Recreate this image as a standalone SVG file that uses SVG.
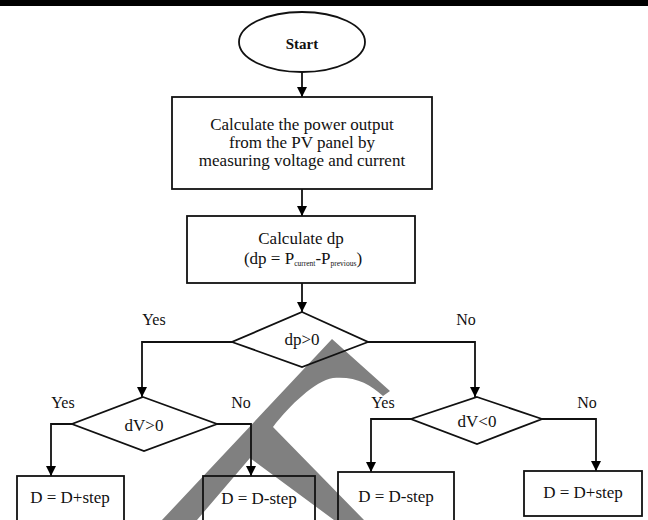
<svg xmlns="http://www.w3.org/2000/svg" width="648" height="520" viewBox="0 0 648 520">
  <defs>
    <marker id="arr" viewBox="0 0 10 10" refX="10" refY="5" markerWidth="10" markerHeight="10" markerUnits="userSpaceOnUse" orient="auto">
      <path d="M0,0 L10,5 L0,10 Z" fill="#000"/>
    </marker>
    <style>
      text { font-family: "Liberation Serif", "Times New Roman", serif; font-size: 17px; fill: #111; text-anchor: middle; }
      .lbl { font-size: 16px; }
      .shape { fill: none; stroke: #111; stroke-width: 1.8; }
      .conn { fill: none; stroke: #111; stroke-width: 1.8; marker-end: url(#arr); }
      .sub { font-size: 7.5px; }
    </style>
  </defs>
  <rect x="0" y="0" width="648" height="520" fill="#fff"/>
  <rect x="0" y="0" width="648" height="6" fill="#000"/>

  <!-- watermark -->
  <path id="watermark" d="M 162 520 L 332 339 L 390 391 L 383 396 C 370 384, 355 376, 333 378 C 315 381, 290 405, 273 427 L 364 520 L 334 520 L 250 458 L 197 520 Z" fill="#808080"/>

  <g id="connectors">
    <line class="conn" x1="302" y1="72" x2="302" y2="97"/>
    <line class="conn" x1="302" y1="189" x2="302" y2="216"/>
    <line class="conn" x1="302" y1="283" x2="302" y2="312"/>
    <polyline class="conn" points="232,342 142,342 142,397"/>
    <polyline class="conn" points="368,342 475,342 475,397"/>
    <polyline class="conn" points="72,424 51,424 51,476"/>
    <polyline class="conn" points="217,424 251,424 251,476"/>
    <polyline class="conn" points="411,419 371,419 371,472"/>
    <polyline class="conn" points="542,419 596,419 596,471"/>
  </g>

  <g id="start">
    <ellipse class="shape" cx="302" cy="42" rx="63" ry="30"/>
    <text x="302" y="49" style="font-weight:bold;font-size:15px">Start</text>
  </g>

  <g id="calc-power">
    <rect class="shape" x="172" y="97" width="260" height="92"/>
    <text x="302" y="130">Calculate the power output</text>
    <text x="302" y="148">from the PV panel by</text>
    <text x="302" y="166">measuring voltage and current</text>
  </g>

  <g id="calc-dp">
    <rect class="shape" x="187" y="216" width="228" height="67"/>
    <text x="301" y="244">Calculate dp</text>
    <text x="303" y="264">(dp = P<tspan class="sub" dy="2">current</tspan><tspan dy="-2">-P</tspan><tspan class="sub" dy="2">previous</tspan><tspan dy="-2">)</tspan></text>
  </g>

  <g id="dec-dp">
    <polygon class="shape" points="302,312 368,342 302,367 232,342"/>
    <text x="302" y="345">dp&gt;0</text>
    <text class="lbl" x="154" y="325">Yes</text>
    <text class="lbl" x="466" y="325">No</text>
  </g>

  <g id="dec-dv-pos">
    <polygon class="shape" points="143,397 217,424 144,451 72,424"/>
    <text x="144" y="431">dV&gt;0</text>
    <text class="lbl" x="63" y="408">Yes</text>
    <text class="lbl" x="241" y="408">No</text>
  </g>

  <g id="dec-dv-neg">
    <polygon class="shape" points="477,397 542,419 477,444 411,419"/>
    <text x="477" y="427">dV&lt;0</text>
    <text class="lbl" x="383" y="408">Yes</text>
    <text class="lbl" x="587" y="408">No</text>
  </g>

  <g id="box-inc-1">
    <rect class="shape" x="17" y="476" width="107" height="60"/>
    <text x="70" y="503">D = D+step</text>
  </g>

  <g id="box-dec-1">
    <rect class="shape" x="203" y="476" width="112" height="60"/>
    <text x="259" y="504">D = D-step</text>
  </g>

  <g id="box-dec-2">
    <rect class="shape" x="338" y="472" width="116" height="64"/>
    <text x="396" y="502">D = D-step</text>
  </g>

  <g id="box-inc-2">
    <rect class="shape" x="524" y="471" width="118" height="45"/>
    <text x="583" y="498">D = D+step</text>
  </g>
</svg>
